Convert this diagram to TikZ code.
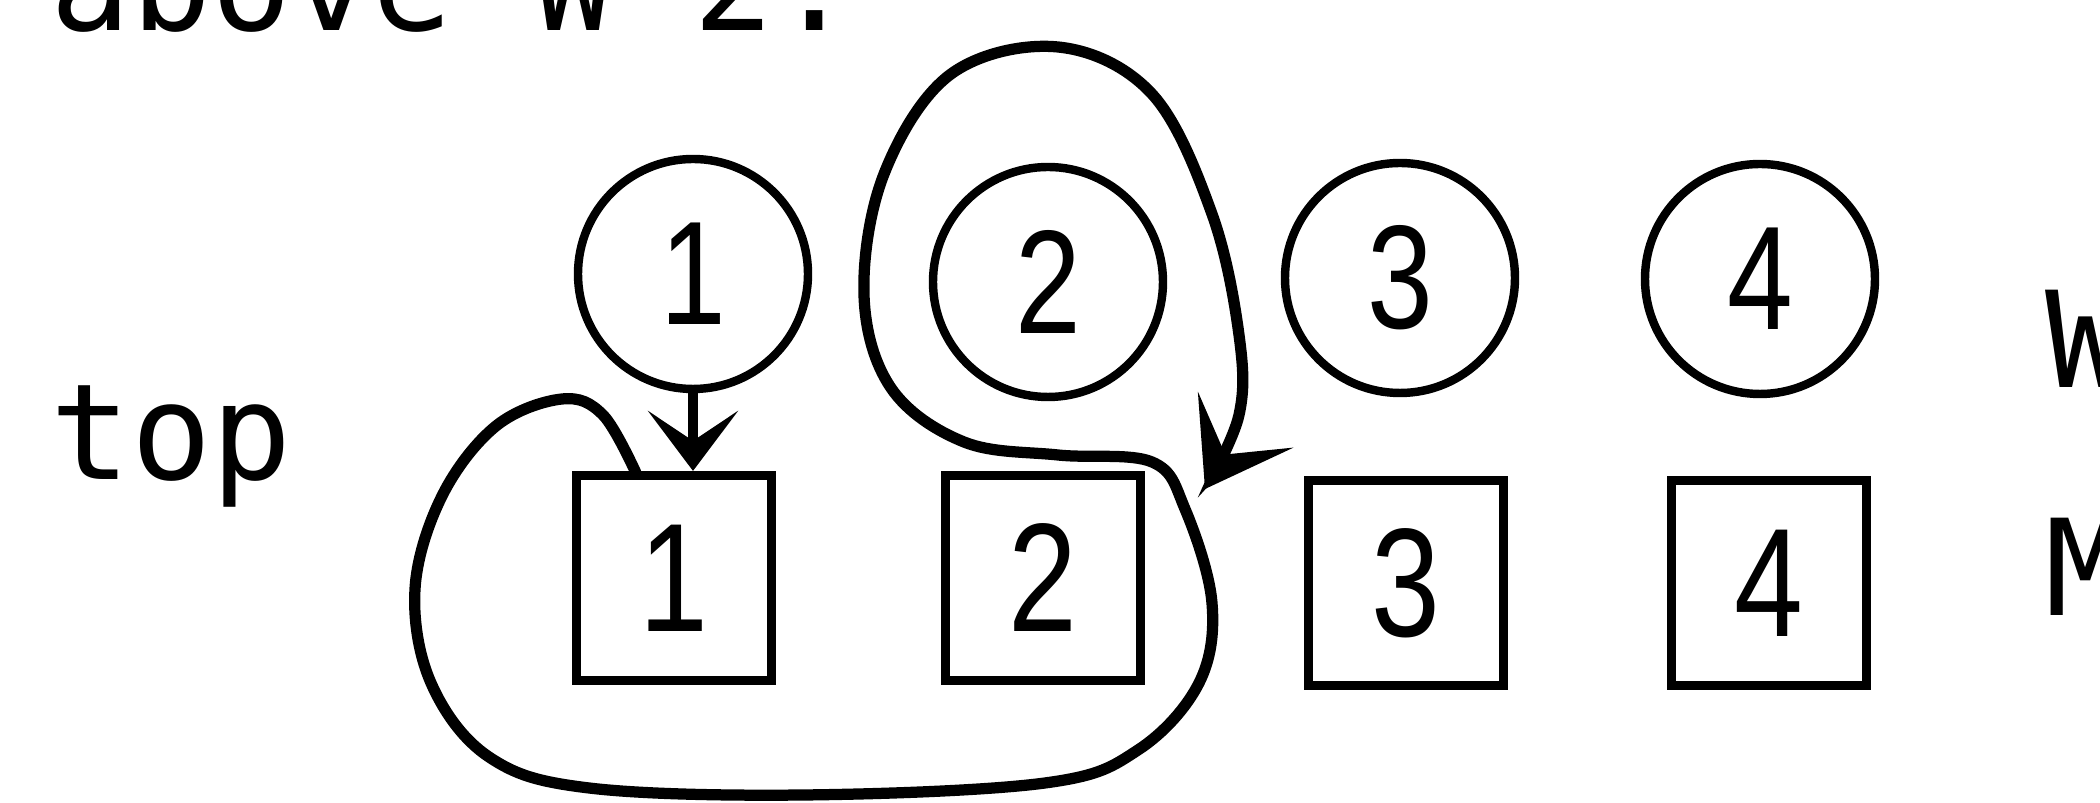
\documentclass[tikz,border=0pt]{standalone}
\usepackage{fontspec}
\setmonofont{DejaVu Sans Mono}
\newfontfamily\digitfont[FakeStretch=0.8]{Liberation Sans}
\usetikzlibrary{arrows.meta}

\begin{document}
\begin{tikzpicture}[>={Stealth[length=6mm, width=9mm, inset=3mm]},
    slot/.style={draw, circle, line width=2.4pt, minimum size=2.3cm, inner sep=0pt, font=\digitfont\fontsize{42pt}{42pt}\selectfont},
    cell/.style={draw, line width=2.6pt, minimum width=1.95cm, minimum height=2.05cm, inner sep=0pt, font=\digitfont\fontsize{44pt}{44pt}\selectfont},
    word/.style={anchor=base west, inner sep=0pt, font=\ttfamily\fontsize{38pt}{38pt}\selectfont}]
    \useasboundingbox (0,0) rectangle (21,8.03);
    \node[word] (title) at (0.50,7.72) {above W 2.};
    \node[word] (top) at (0.50,3.23) {top};
    \node[word] (W) at (20.45,4.15) {W};
    \node[word] (M) at (20.45,1.87) {M};
    \node[slot] (c1) at (6.93,5.29) {1};
    \node[slot] (c2) at (10.48,5.21) {2};
    \node[slot] (c3) at (14.00,5.25) {3};
    \node[slot] (c4) at (17.60,5.24) {4};
    \node[cell] (b1) at (6.74,2.25) {1};
    \node[cell] (b2) at (10.43,2.25) {2};
    \node[cell] (b3) at (14.06,2.20) {3};
    \node[cell] (b4) at (17.69,2.20) {4};
    \draw[->, line width=3pt] (c1.south) -- (c1.south |- b1.north);
    % pointer loop round 1 and 2, ending between 2 and 3
    \coordinate (from) at (6.36,3.30);
    \coordinate (tip) at (12.05,3.14);
    \draw[->, line width=3.2pt, >={Stealth[length=8mm, width=11mm, inset=4mm]}]
        plot[smooth, tension=0.6] coordinates {(from) (6.03,3.88) (5.62,4.04) (4.96,3.77) (4.42,3.07) (4.15,2.14) (4.31,1.20) (4.89,0.46) (5.89,0.15) (8.04,0.08) (10.45,0.20) (11.38,0.53) (11.99,1.20) (12.12,2.00) (11.85,2.94) (11.52,3.41) (10.58,3.48) (9.64,3.61) (8.91,4.15) (8.64,5.08) (8.84,6.29) (9.51,7.29) (10.58,7.56) (11.52,7.09) (12.12,5.89) (12.39,4.68) (12.39,3.88) (tip)};
\end{tikzpicture}
\end{document}
